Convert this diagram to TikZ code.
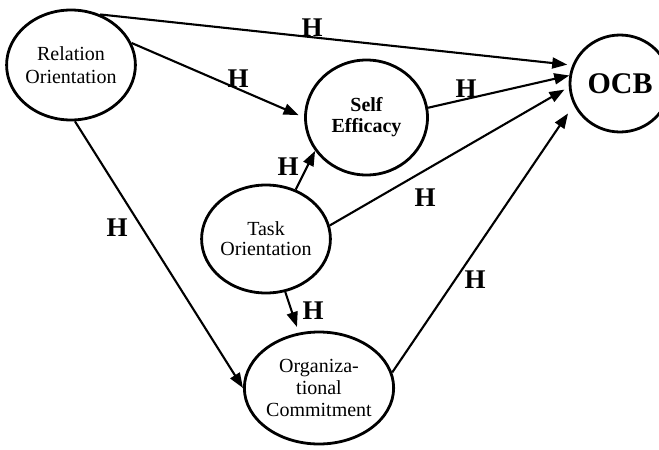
\documentclass[tikz,border=0pt]{standalone}
\usepackage{fontspec}
\setmainfont{Liberation Serif}
\usetikzlibrary{shapes.geometric,arrows.meta}
\begin{document}
\begin{tikzpicture}[x=1pt,y=-1pt,
  circ/.style={ellipse, draw, line width=2.8pt, inner sep=0pt, align=center, font=\fontsize{20}{23}\selectfont},
  boldcirc/.style={circ, font=\bfseries\fontsize{20}{21}\selectfont},
  link/.style={line width=2.1pt, -{Triangle[length=15pt,width=11pt]}},
  hyp/.style={font=\bfseries\fontsize{27}{27}\selectfont, inner sep=0pt}]
\useasboundingbox[fill=white] (0,0) rectangle (659,450);
% constructs
\node[circ, minimum width=118pt, minimum height=110pt] (rel) at (71,65) {Relation\\Orientation};
\node[boldcirc, minimum width=122pt, minimum height=115pt] (self) at (366.5,117.5) {Self\\Efficacy};
\node[circ, minimum width=122pt, minimum height=108pt, font=\fontsize{20}{20}\selectfont] (task) at (266,239) {Task\\Orientation};
\node[circ, minimum width=122pt, minimum height=112pt, font=\fontsize{20}{22}\selectfont] (org) at (319,388) {Organiza-\\tional\\Commitment};
\node[circ, minimum width=100pt, minimum height=97pt, font=\bfseries\fontsize{30}{30}\selectfont] (ocb) at (620,83.5) {OCB};
% paths
\draw[link, shorten >=5pt] (rel.60) -- (ocb.159);
\draw[link, shorten >=6pt] (rel.20) -- (self.180);
\draw[link] (rel.-86) -- (org.180);
\draw[link] (task.59) -- (self.213);
\draw[link, shorten >=6pt] (task.-70) -- (org.110);
\draw[link, shorten >=5pt] (task.12) -- (ocb.184);
\draw[link] (self.9) -- (ocb.171);
\draw[link, shorten >=10pt] (org.12) -- (ocb.205);
% hypothesis labels
\node[hyp] (h1) at (312,28) {H};
\node[hyp] (h2) at (238,79) {H};
\node[hyp] (h3) at (466,89) {H};
\node[hyp] (h4) at (288,167) {H};
\node[hyp] (h5) at (425,198) {H};
\node[hyp] (h6) at (475,280) {H};
\node[hyp] (h7) at (117,228) {H};
\node[hyp] (h8) at (313,311) {H};
\end{tikzpicture}
\end{document}
